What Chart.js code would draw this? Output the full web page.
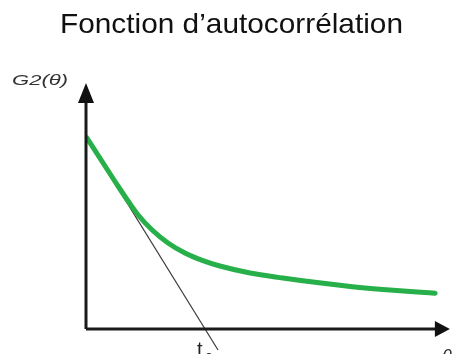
<!DOCTYPE html>
<html>
<head>
<meta charset="utf-8">
<script src="https://cdn.jsdelivr.net/npm/chart.js@4/dist/chart.umd.min.js"></script>
<style>
  html, body { margin: 0; padding: 0; background: #fff; }
  #wrap { width: 454px; height: 354px; }
</style>
</head>
<body>
<div id="wrap"><canvas id="myChart"></canvas></div>
<script>
// values (theta in arbitrary units, G2 normalised)
const thetaValues = [0, 0.5, 0.86, 1.14, 1.42, 1.81, 2.25, 2.72, 3.22, 3.69, 4.53, 5.44, 6.39, 7.31, 8.22, 9.17, 9.67];
const g2Values = [0.95, 0.81, 0.71, 0.635, 0.565, 0.49, 0.425, 0.375, 0.337, 0.31, 0.275, 0.25, 0.227, 0.208, 0.193, 0.18, 0.174];
const tangentTheta = [0, 3.64];
const tangentG2 = [0.95, -0.11];

const titleText = 'Fonction d\u2019autocorrélation';
const yAxisLabel = 'G2(\u03b8)';
const xAxisLabel = '\u03b8';
const tcLabel = 't';
const tcSub = 'c';

const ctx = document.getElementById('myChart').getContext('2d');

// write text stretched to a given width (the original lettering is wide)
function wideText(c, text, x, y, width) {
    const w = c.measureText(text).width;
    c.save();
    c.translate(x, y);
    c.scale(width / w, 1);
    c.fillText(text, 0, 0);
    c.restore();
}

// draws the title, arrowed axes and labels
const decorations = {
    id: 'decorations',
    afterDraw(chart) {
        const c = chart.ctx;
        const xs = chart.scales.x;
        const ys = chart.scales.y;
        const x0 = xs.getPixelForValue(0) - 1;
        const y0 = ys.getPixelForValue(0) + 1;
        const yTop = ys.getPixelForValue(1.225);
        const xEnd = xs.getPixelForValue(10.08);

        c.save();
        c.fillStyle = '#111';
        c.textAlign = 'left';
        c.textBaseline = 'alphabetic';
        c.font = '28px "Liberation Sans", Arial, sans-serif';
        wideText(c, titleText, 60, 33, 343);

        // axes
        c.strokeStyle = '#1a1a1a';
        c.lineWidth = 3;
        c.beginPath();
        c.moveTo(x0, y0);
        c.lineTo(x0, yTop + 12);
        c.moveTo(x0, y0);
        c.lineTo(xEnd - 10, y0);
        c.stroke();

        c.beginPath();
        c.moveTo(x0, yTop);
        c.lineTo(x0 - 8, yTop + 20);
        c.lineTo(x0 + 8, yTop + 20);
        c.closePath();
        c.fill();

        c.beginPath();
        c.moveTo(xEnd, y0);
        c.lineTo(xEnd - 15, y0 - 8);
        c.lineTo(xEnd - 15, y0 + 8);
        c.closePath();
        c.fill();

        // labels
        c.fillStyle = '#333';
        c.font = 'italic 15px "Liberation Sans", Arial, sans-serif';
        wideText(c, yAxisLabel, 12, 85, 56);
        c.font = 'italic 18px "Liberation Sans", Arial, sans-serif';
        c.fillText(xAxisLabel, 442, 362);

        c.fillStyle = '#222';
        c.font = '20px "Liberation Sans", Arial, sans-serif';
        c.fillText(tcLabel, 197, 356);
        c.font = '15px "Liberation Sans", Arial, sans-serif';
        c.fillText(tcSub, 205, 361);
        c.restore();
    }
};

new Chart(ctx, {
    type: 'line',
    data: {
        datasets: [
            {
                data: thetaValues.map((t, i) => ({ x: t, y: g2Values[i] })),
                borderColor: '#27b04a',
                borderWidth: 5,
                pointRadius: 0,
                cubicInterpolationMode: 'monotone',
                borderCapStyle: 'round',
            },
            {
                data: tangentTheta.map((t, i) => ({ x: t, y: tangentG2[i] })),
                borderColor: '#3a3a3a',
                borderWidth: 1.2,
                pointRadius: 0,
            }
        ]
    },
    options: {
        responsive: true,
        maintainAspectRatio: false,
        animation: false,
        layout: {
            padding: { left: 87, right: 7, top: 88, bottom: 0 }
        },
        plugins: {
            legend: { display: false },
            title: { display: false },
            tooltip: { enabled: false },
        },
        scales: {
            x: { type: 'linear', min: 0, max: 10, display: false },
            y: { type: 'linear', min: -0.13, max: 1.2, display: false },
        },
    },
    plugins: [decorations],
});
</script>
</body>
</html>
